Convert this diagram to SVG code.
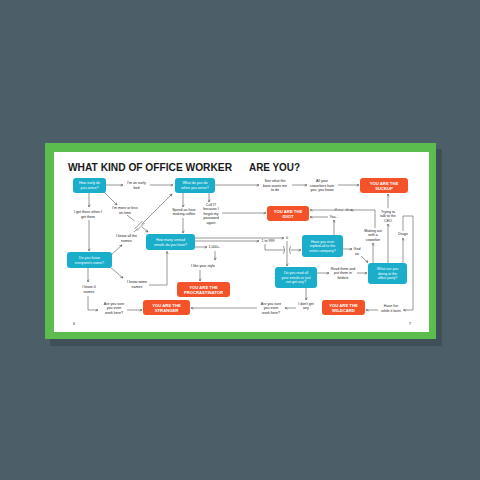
<svg xmlns="http://www.w3.org/2000/svg" width="480" height="480" viewBox="0 0 480 480">
<style>
.t{font-family:"Liberation Sans",Arial,sans-serif;font-size:3.6px;fill:#222;text-anchor:middle}
.bt{font-family:"Liberation Sans",Arial,sans-serif;font-size:3.6px;fill:#fff;text-anchor:middle}
.ot{font-family:"Liberation Sans",Arial,sans-serif;font-size:4.2px;font-weight:bold;fill:#fff;text-anchor:middle}
.b{fill:#1aaecb}
.o{fill:#f4532a}
.c{fill:none;stroke:#444;stroke-width:0.55}
.ca{fill:none;stroke:#444;stroke-width:0.55;marker-end:url(#a)}
</style>
<defs>
<marker id="a" viewBox="0 0 6 6" refX="5.5" refY="3" markerWidth="3" markerHeight="3" orient="auto" markerUnits="userSpaceOnUse">
<path d="M0.5,0.5 L5.5,3 L0.5,5.5" fill="none" stroke="#444" stroke-width="1"/>
</marker>
</defs>
<rect width="480" height="480" fill="#4c5f68"/>
<rect x="50" y="149" width="392" height="197" fill="#3f5058"/>
<rect x="45" y="143" width="391" height="196" fill="#5bbd4e"/>
<rect x="54" y="152" width="375" height="180" fill="#ffffff"/>
<text x="68" y="170.5" font-family="Liberation Sans,Arial,sans-serif" font-weight="bold" font-size="11" fill="#1a1a1a" textLength="164" lengthAdjust="spacingAndGlyphs">WHAT KIND OF OFFICE WORKER</text>
<text x="249" y="170.5" font-family="Liberation Sans,Arial,sans-serif" font-weight="bold" font-size="11" fill="#1a1a1a" textLength="51" lengthAdjust="spacingAndGlyphs">ARE YOU?</text>
<text class="t" x="74" y="325">6</text>
<text class="t" x="410" y="325">7</text>

<g id="connectors">
<path class="ca" d="M106,185 H123"/>
<path class="ca" d="M150,185 H173"/>
<path class="ca" d="M89,193 V207"/>
<path class="ca" d="M104,192 L117,205"/>
<path class="ca" d="M89,220 V251"/>
<path class="ca" d="M110,256 L122,245"/>
<path class="c" d="M134,232 L137.5,228.5"/>
<path class="c" d="M136.5,231 L144.5,223 M134.5,229 L142.5,221"/>
<path class="ca" d="M141.5,224.5 L172,194"/>
<path class="c" d="M127,215 L134.5,221"/>
<path class="ca" d="M142,227 L148,232"/>
<path class="ca" d="M110,267 L123,278"/>
<path class="ca" d="M149,285 H167 V251.5"/>
<path class="ca" d="M88,268 V282"/>
<path class="ca" d="M88,296 V310 H98"/>
<path class="ca" d="M127,310 H142"/>
<path class="ca" d="M183,193 V207"/>
<path class="ca" d="M209,193 V202"/>
<path class="ca" d="M183,218 V233"/>
<path class="ca" d="M222,213 H266"/>
<path class="ca" d="M215,185 H259"/>
<path class="ca" d="M292,185 H307"/>
<path class="ca" d="M338,185 H359"/>
<path class="ca" d="M195,238 H284"/>
<path class="ca" d="M287,241 V266"/>
<path class="ca" d="M195,241 H259"/>
<path class="c" d="M265,244 V250 H284"/>
<path class="c" d="M283.5,246 Q285.8,250 283.5,254"/>
<path class="c" d="M290.5,246 Q288.2,250 290.5,254"/>
<path class="ca" d="M290.5,250 H301"/>
<path class="ca" d="M195,247 H207"/>
<path class="ca" d="M215,251 V260"/>
<path class="ca" d="M200,270 V281"/>
<path class="ca" d="M334,235 V220"/>
<path class="ca" d="M328,217 H310"/>
<path class="ca" d="M336,210 H310"/>
<path class="ca" d="M375,228 V210 H351"/>
<path class="ca" d="M343,249 H352"/>
<path class="ca" d="M361,256 L368,262.5"/>
<path class="ca" d="M317,273 H329"/>
<path class="ca" d="M357,273 H367"/>
<path class="ca" d="M373,263 V243"/>
<path class="ca" d="M388,263 V224"/>
<path class="ca" d="M388,208 V194"/>
<path class="ca" d="M403,263 V238"/>
<path class="ca" d="M403,231 V216 H413 V310 H403.5"/>
<path class="ca" d="M378,310 H366"/>
<path class="ca" d="M306,288 V300"/>
<path class="ca" d="M296,308 H285"/>
<path class="ca" d="M257,308 H191"/>
</g>

<g id="n1"><rect class="b" x="73" y="178" width="33" height="15" rx="3"/><text class="bt" x="89.5" y="184.3">How early do</text><text class="bt" x="89.5" y="188.8">you arrive?</text></g>
<g id="n2"><text class="t" x="136.5" y="184">I'm an early</text><text class="t" x="136.5" y="188.5">bird</text></g>
<g id="n3"><rect class="b" x="175" y="178" width="40" height="15" rx="3"/><text class="bt" x="195" y="184.3">What do you do</text><text class="bt" x="195" y="188.8">when you arrive?</text></g>
<g id="n4"><text class="t" x="275" y="182">See what the</text><text class="t" x="275" y="186.5">boss wants me</text><text class="t" x="275" y="191">to do</text></g>
<g id="n5"><text class="t" x="322" y="182">All your</text><text class="t" x="322" y="186.5">coworkers hate</text><text class="t" x="322" y="191">you, you know</text></g>
<g id="n6"><rect class="o" x="360" y="178" width="48" height="15" rx="3"/><text class="ot" x="384" y="184.6">YOU ARE THE</text><text class="ot" x="384" y="189.6">SUCKUP</text></g>
<g id="n7"><text class="t" x="88" y="213">I get there when I</text><text class="t" x="88" y="217.5">get there</text></g>
<g id="n8"><text class="t" x="125" y="209">I'm more or less</text><text class="t" x="125" y="213.5">on time</text></g>
<g id="n9"><text class="t" x="184" y="210.5">Spend an hour</text><text class="t" x="184" y="215">making coffee</text></g>
<g id="n10"><text class="t" x="211" y="205.5">Call IT</text><text class="t" x="211" y="210">because I</text><text class="t" x="211" y="214.5">forgot my</text><text class="t" x="211" y="219">password</text><text class="t" x="211" y="223.5">again</text></g>
<g id="n11"><rect class="o" x="267" y="206" width="42" height="15" rx="3"/><text class="ot" x="288" y="212.6">YOU ARE THE</text><text class="ot" x="288" y="217.6">IDIOT</text></g>
<g id="n12"><text class="t" x="343" y="211.2">Great idea</text></g>
<g id="n13"><text class="t" x="334" y="218">You...</text></g>
<g id="n14"><text class="t" x="388" y="212.5">Trying to</text><text class="t" x="388" y="217">talk to the</text><text class="t" x="388" y="221.5">CEO</text></g>
<g id="n15"><text class="t" x="373" y="231.5">Making out</text><text class="t" x="373" y="236">with a</text><text class="t" x="373" y="240.5">coworker</text></g>
<g id="n16"><text class="t" x="403" y="235">Drugs</text></g>
<g id="n17"><text class="t" x="126.5" y="237">I know all the</text><text class="t" x="126.5" y="241.5">names</text></g>
<g id="n18"><rect class="b" x="146" y="234" width="49" height="16" rx="3"/><text class="bt" x="170.5" y="241">How many unread</text><text class="bt" x="170.5" y="245.5">emails do you have?</text></g>
<g id="n19"><text class="t" x="287" y="239.3">0</text></g>
<g id="n20"><text class="t" x="268" y="242.3">1 to 999</text></g>
<g id="n21"><text class="t" x="214" y="248.3">1,000+</text></g>
<g id="n22"><rect class="b" x="302" y="235" width="41" height="22" rx="3"/><text class="bt" x="322.5" y="242.8">Have you ever</text><text class="bt" x="322.5" y="247.3">replied-all to the</text><text class="bt" x="322.5" y="251.8">entire company?</text></g>
<g id="n23"><text class="t" x="357" y="250.3">God</text><text class="t" x="357" y="254.8">no</text></g>
<g id="n24"><rect class="b" x="67" y="252" width="45" height="16" rx="3"/><text class="bt" x="89.5" y="259">Do you know</text><text class="bt" x="89.5" y="263.5">everyone's name?</text></g>
<g id="n25"><text class="t" x="203" y="267">I like your style</text></g>
<g id="n26"><rect class="b" x="275" y="267" width="42" height="21" rx="3"/><text class="bt" x="296" y="274.2">Do you read all</text><text class="bt" x="296" y="278.7">your emails or just</text><text class="bt" x="296" y="283.2">not get any?</text></g>
<g id="n27"><text class="t" x="343" y="269.5">Read them and</text><text class="t" x="343" y="274">put them in</text><text class="t" x="343" y="278.5">folders</text></g>
<g id="n28"><rect class="b" x="368" y="263" width="39" height="21" rx="3"/><text class="bt" x="387.5" y="270.2">What are you</text><text class="bt" x="387.5" y="274.7">doing at the</text><text class="bt" x="387.5" y="279.2">office party?</text></g>
<g id="n29"><text class="t" x="137" y="283">I know some</text><text class="t" x="137" y="287.5">names</text></g>
<g id="n30"><text class="t" x="89" y="288">I know 0</text><text class="t" x="89" y="292.5">names</text></g>
<g id="n31"><rect class="o" x="177" y="282" width="53" height="15" rx="3"/><text class="ot" x="203.5" y="288.6">YOU ARE THE</text><text class="ot" x="203.5" y="293.6">PROCRASTINATOR</text></g>
<g id="n32"><text class="t" x="114" y="304.5">Are you sure</text><text class="t" x="114" y="309">you even</text><text class="t" x="114" y="313.5">work here?</text></g>
<g id="n33"><rect class="o" x="143" y="300" width="47" height="15" rx="3"/><text class="ot" x="166.5" y="306.6">YOU ARE THE</text><text class="ot" x="166.5" y="311.6">STRANGER</text></g>
<g id="n34"><text class="t" x="271" y="304.5">Are you sure</text><text class="t" x="271" y="309">you even</text><text class="t" x="271" y="313.5">work here?</text></g>
<g id="n35"><text class="t" x="306" y="304.5">I don't get</text><text class="t" x="306" y="309">any</text></g>
<g id="n36"><rect class="o" x="322" y="300" width="43" height="15" rx="3"/><text class="ot" x="343.5" y="306.6">YOU ARE THE</text><text class="ot" x="343.5" y="311.6">WILDCARD</text></g>
<g id="n37"><text class="t" x="391" y="307">Have fun</text><text class="t" x="391" y="311.5">while it lasts</text></g>
</svg>
